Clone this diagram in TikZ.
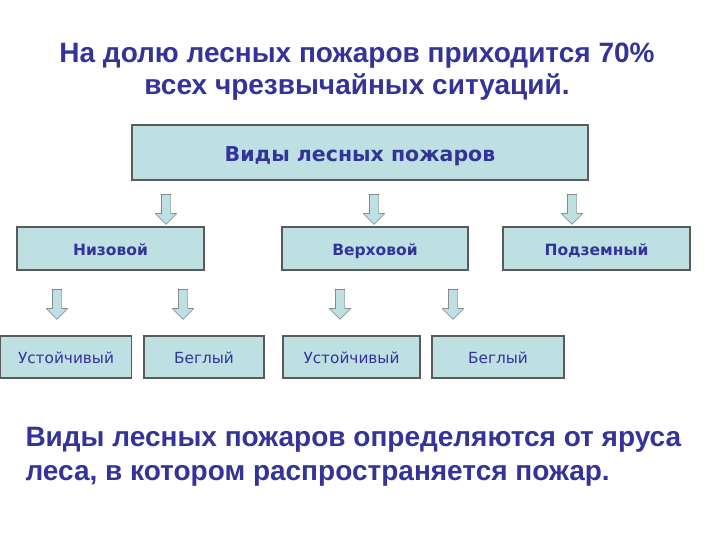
\documentclass[tikz,border=0pt]{standalone}
\usepackage{fontspec}
\setmainfont{Liberation Sans}
\newfontfamily\boxfont{DejaVu Sans}
\usetikzlibrary{shapes.arrows}
\definecolor{navy}{RGB}{51,51,153}
\definecolor{boxfill}{RGB}{190,224,226}
\definecolor{boxline}{RGB}{90,90,90}

\begin{document}
\begin{tikzpicture}[x=1pt,y=-1pt,
  box/.style={draw=boxline,line width=1.2pt,fill=boxfill,inner sep=0pt,text=navy,text depth=0pt},
  topbox/.style={box,minimum height=55,text height=18pt,font=\boxfont\bfseries\fontsize{20.5}{22}\selectfont},
  kindbox/.style={box,minimum height=43,text height=13.3pt,font=\boxfont\bfseries\fontsize{15.5}{17}\selectfont},
  subbox/.style={box,minimum height=42,text height=13.2pt,font=\boxfont\fontsize{15.3}{17}\selectfont},
  downarrow/.style={single arrow,shape border rotate=270,draw=boxline,fill=boxfill,
    inner sep=4.5pt,single arrow head extend=6pt,minimum height=30pt}]
 \useasboundingbox (0,0) rectangle (720,540);
 % title
 \node[text=navy,font=\bfseries\fontsize{28}{32}\selectfont,align=center] (title) at (357,72)
   {На долю лесных пожаров приходится 70\%\\всех чрезвычайных ситуаций.};
 % levels
 \node[topbox,minimum width=456] (types) at (360,152.5) {Виды лесных пожаров};
 \node[kindbox,minimum width=187] (low) at (110.5,248.5) {Низовой};
 \node[kindbox,minimum width=186] (crown) at (375,248.5) {Верховой};
 \node[kindbox,minimum width=187] (ground) at (596.5,248.5) {Подземный};
 \node[subbox,minimum width=131] (lowsteady) at (66,357) {Устойчивый};
 \node[subbox,minimum width=120] (lowrunning) at (204,357) {Беглый};
 \node[subbox,minimum width=137] (crownsteady) at (351.5,357) {Устойчивый};
 \node[subbox,minimum width=132] (crownrunning) at (498,357) {Беглый};
 % arrows
 \node[downarrow] (a1) at (166,207) {};
 \node[downarrow] (a2) at (374,207) {};
 \node[downarrow] (a3) at (572,207) {};
 \node[downarrow] (a4) at (57,302) {};
 \node[downarrow] (a5) at (183,302) {};
 \node[downarrow] (a6) at (340,302) {};
 \node[downarrow] (a7) at (453,302) {};
 % note
 \node[text=navy,font=\bfseries\fontsize{28}{34}\selectfont,align=left,anchor=west] (note) at (22,457)
   {Виды лесных пожаров определяются от яруса\\леса, в котором распространяется пожар.};
\end{tikzpicture}
\end{document}
